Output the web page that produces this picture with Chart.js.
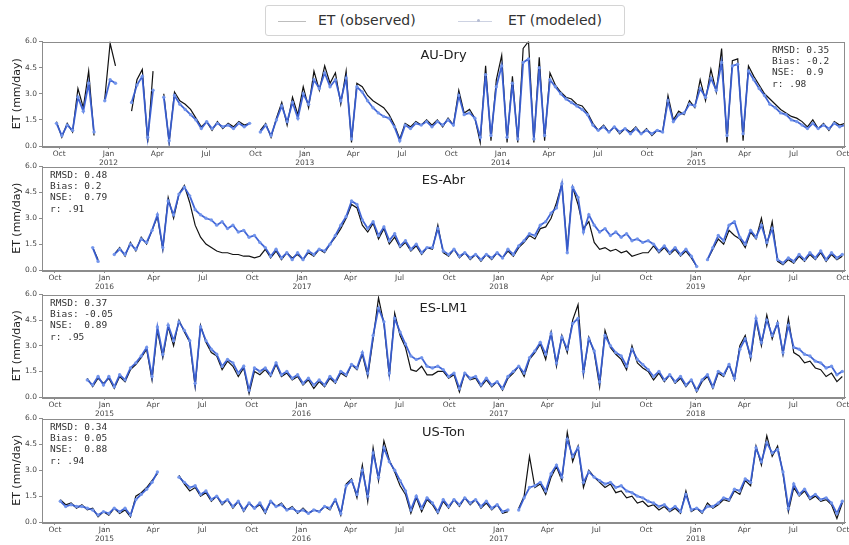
<!DOCTYPE html>
<html>
<head>
<meta charset="utf-8">
<script src="https://cdn.jsdelivr.net/npm/chart.js@4.4.1/dist/chart.umd.min.js"></script>
<style>
  body { margin: 0; background: #fff; width: 849px; height: 545px; overflow: hidden; position: relative; font-family: "DejaVu Sans", sans-serif; }
  canvas.panel { position: absolute; left: 0; }
  #legend { position: absolute; left: 265px; top: 5px; width: 360px; height: 31px; border: 1px solid #d4d4d4; border-radius: 3px; box-sizing: border-box; }
  #legend .lbl { position: absolute; top: 6px; font-size: 14px; color: #333; white-space: nowrap; }
  #legend .smp { position: absolute; top: 15px; height: 0; }
</style>
</head>
<body>
<div id="legend">
  <div class="smp" style="left:12px;width:28px;border-top:1px solid #bdbdbd;"></div>
  <div class="lbl" style="left:52px;">ET (observed)</div>
  <div class="smp" style="left:192px;width:34px;border-top:1px solid #cdd2e2;"></div>
  <div class="smp" style="left:211px;top:13px;width:3px;height:3px;border-radius:2px;background:#b5bcd4;"></div>
  <div class="lbl" style="left:242px;">ET (modeled)</div>
</div>

<script>
// Daily ET (mm/day), every 10 days
var sites = ["AU-Dry", "ES-Abr", "ES-LM1", "US-Ton"];
var startYears = [2011, 2015, 2014, 2014];   // first October on each x axis
var firstDay = [-5, -20, -20, -20];          // day (from 1 Oct) of first sample
var stepDays = 10;
var xMin = [-32, -24, -24, -24];
var xMax = 1465;

var monthNames = ["Oct", "Jan", "Apr", "Jul"];
var monthIdx = [9, 0, 3, 6];
var yTicks = [0, 1.5, 3.0, 4.5, 6.0];

var auObs = [1.4,0.5,1.3,0.8,3.3,2.2,4.3,0.6,null,2.7,5.9,4.6,null,null,2.0,3.8,4.4,0.2,4.3,null,
  3.0,0.2,3.1,2.6,2.4,2.1,1.6,1.1,1.4,0.9,1.4,1.0,1.3,1.1,1.4,1.2,1.3,null,0.9,1.3,
  0.5,1.6,2.5,1.2,2.8,1.8,3.4,2.2,4.3,3.2,4.6,3.6,4.2,2.4,4.3,0.2,3.6,3.4,2.9,2.6,
  2.4,2.2,1.8,1.2,0.4,1.3,1.1,1.4,1.2,1.5,1.2,1.5,1.1,1.6,1.2,3.2,1.9,2.1,1.6,0.2,
  4.6,0.3,3.8,5.2,0.2,4.0,0.2,5.6,6.0,0.2,5.1,0.3,4.2,3.5,3.1,2.8,2.7,2.4,2.3,1.9,
  1.3,0.9,1.2,0.8,1.1,0.7,1.0,0.8,1.1,0.7,1.0,0.6,0.9,0.8,2.9,1.5,2.0,1.8,2.6,2.2,
  3.8,2.6,4.4,3.1,5.6,0.2,4.9,5.0,0.3,4.6,4.0,3.5,3.0,2.7,2.4,2.1,1.9,1.7,1.6,1.4,
  1.1,1.5,1.0,1.3,0.9,1.4,1.2,1.3];
var auMod = [1.3,0.6,1.2,0.9,2.8,2.0,3.6,0.8,null,2.6,3.8,3.6,null,null,2.5,3.5,4.0,0.5,3.2,null,
  2.8,0.3,2.9,2.4,2.1,1.8,1.5,1.0,1.4,1.0,1.3,1.1,1.2,1.0,1.3,1.1,1.3,null,0.8,1.2,
  0.6,1.5,2.3,1.4,2.5,1.6,3.0,2.4,3.8,3.3,4.2,3.4,3.8,2.6,3.9,0.4,3.4,3.1,2.6,2.2,
  1.9,1.7,1.6,1.1,0.3,1.2,1.0,1.3,1.2,1.4,1.1,1.4,1.2,1.5,1.2,2.9,1.8,1.9,1.6,0.5,
  4.1,0.6,3.4,4.6,0.5,3.6,0.4,4.8,5.0,0.4,4.5,0.6,3.8,3.4,3.0,2.7,2.5,2.3,2.1,1.8,
  1.2,0.9,1.1,0.8,1.1,0.8,1.0,0.7,1.0,0.7,0.9,0.7,0.9,0.8,2.6,1.4,1.8,1.9,2.4,2.3,
  3.3,2.8,3.9,3.2,4.8,0.6,4.6,4.7,0.7,4.3,3.8,3.3,2.9,2.4,2.2,1.9,1.8,1.5,1.4,1.2,
  1.0,1.3,1.0,1.2,1.0,1.3,1.1,1.2];

var abrObs = [null,null,null,null,null,null,null,null,null,1.3,0.6,null,null,0.9,1.3,0.8,1.6,1.1,1.9,1.5,
  2.3,3.1,1.2,4.2,3.0,4.4,4.9,3.9,2.6,1.9,1.5,1.3,1.1,1.0,1.0,0.9,0.9,0.8,0.8,0.7,
  0.8,1.2,0.7,1.1,0.6,1.0,0.7,0.9,0.6,1.0,0.8,1.2,1.0,1.5,1.9,2.4,3.0,3.8,3.6,2.6,
  2.2,2.7,1.8,2.4,1.5,1.9,1.3,1.6,1.1,1.4,0.9,1.3,1.2,2.6,1.0,0.8,1.2,0.7,1.0,0.6,
  0.9,0.5,0.9,0.6,1.0,0.7,1.1,0.8,1.3,1.6,2.0,1.8,2.4,2.5,3.0,3.9,5.0,1.2,4.8,3.8,
  2.4,2.8,1.6,1.2,1.3,1.1,1.2,1.0,1.1,0.8,0.9,1.0,1.0,1.4,1.0,1.3,0.9,1.2,0.8,1.1,
  0.7,0.2,null,0.6,1.2,1.8,1.5,2.3,2.0,1.8,1.3,2.2,1.8,3.0,1.4,2.8,0.5,0.3,0.6,0.4,
  0.8,0.5,0.9,0.6,1.0,0.5,0.9,0.6,0.8];
var abrMod = [null,null,null,null,null,null,null,null,null,1.3,0.5,null,null,0.9,1.2,0.9,1.5,1.2,1.8,1.6,
  2.3,3.2,1.3,4.0,3.2,4.4,4.8,4.3,3.5,3.2,3.0,2.9,2.6,2.8,2.4,2.6,2.2,2.3,1.9,2.0,
  1.6,1.3,0.8,1.2,0.7,1.0,0.6,1.0,0.6,1.1,0.9,1.2,1.1,1.5,2.0,2.6,3.1,4.0,3.8,2.9,
  2.4,2.8,2.0,2.5,1.7,2.1,1.4,1.7,1.2,1.5,1.0,1.3,1.3,2.4,1.1,0.9,1.2,0.8,1.0,0.7,
  0.9,0.6,0.9,0.7,1.0,0.7,1.2,0.9,1.4,1.7,2.1,2.0,2.6,2.8,3.3,3.6,5.0,1.0,4.8,4.2,
  2.2,3.2,2.6,2.2,2.4,2.0,2.2,1.9,2.1,1.7,1.8,1.6,1.7,1.5,1.1,1.4,1.0,1.3,0.9,1.2,
  0.8,0.2,null,0.6,1.3,2.0,1.7,2.6,2.8,1.9,1.5,2.3,1.9,2.6,1.6,2.4,0.6,0.4,0.7,0.5,
  0.9,0.6,1.0,0.7,1.1,0.6,1.0,0.7,0.9];

var lmObs = [null,null,null,null,null,null,null,null,1.1,0.6,1.1,0.8,1.1,0.5,1.2,0.9,1.6,1.9,2.3,2.8,
  1.0,3.9,2.3,4.1,3.0,4.5,3.8,3.2,0.6,4.2,3.2,2.6,2.4,1.6,2.1,1.8,1.2,1.7,0.2,1.5,
  1.3,1.6,1.2,1.9,1.2,1.4,1.0,1.2,0.7,1.0,0.5,0.9,0.6,1.1,0.8,1.4,1.2,1.9,1.6,2.5,
  1.2,3.4,5.8,4.3,1.2,4.9,3.6,2.9,1.6,1.5,1.8,1.3,1.3,1.5,1.5,1.1,1.3,0.3,1.4,1.0,
  1.1,0.6,1.0,0.6,0.9,0.4,1.1,1.4,1.8,1.2,2.2,2.6,3.1,2.2,3.8,1.8,3.6,2.6,4.5,5.4,
  1.3,3.5,2.6,0.6,3.9,2.9,2.5,2.2,1.6,3.0,2.0,1.7,1.5,1.0,1.4,0.9,1.3,0.8,1.1,0.6,
  1.0,0.3,0.9,1.2,0.5,1.4,1.2,1.9,1.0,3.0,3.6,2.2,4.5,3.0,4.8,3.4,4.4,2.5,4.6,2.6,
  2.4,2.0,2.1,1.7,1.6,1.2,1.4,0.9,1.2];
var lmMod = [null,null,null,null,null,null,null,null,1.0,0.7,1.2,0.7,1.2,0.6,1.3,1.0,1.7,2.0,2.4,2.9,
  1.2,4.1,2.5,4.2,3.3,4.4,3.9,3.3,0.8,4.1,3.3,2.8,2.5,1.8,2.2,2.0,1.4,1.8,0.4,1.7,
  1.5,1.7,1.3,2.0,1.3,1.5,1.1,1.3,0.8,1.1,0.7,1.0,0.7,1.2,0.9,1.5,1.3,1.9,1.7,2.6,
  1.4,3.6,5.2,4.4,1.4,4.6,3.8,3.1,2.4,2.2,2.3,1.8,1.7,1.8,1.6,1.2,1.4,0.5,1.4,1.1,
  1.2,0.7,1.1,0.7,0.9,0.5,1.2,1.5,1.8,1.4,2.3,2.7,3.2,2.5,3.7,2.0,3.5,2.8,4.3,4.6,
  1.5,3.4,2.7,0.9,3.6,3.0,2.6,2.4,1.8,2.8,2.2,1.9,1.6,1.2,1.5,1.0,1.3,0.9,1.2,0.7,
  1.0,0.4,1.0,1.3,0.6,1.5,1.3,1.9,1.1,2.8,3.4,2.4,4.6,3.2,4.5,3.6,4.3,2.6,4.2,2.9,
  2.8,2.5,2.4,2.1,2.0,1.7,1.8,1.3,1.5];

var tonObs = [null,null,null,1.3,1.0,1.1,0.8,1.0,0.7,0.8,0.3,0.6,0.4,0.8,0.5,0.7,0.3,1.5,1.7,2.0,
  2.4,2.8,null,null,null,2.7,2.2,1.8,2.0,1.5,1.7,1.2,1.5,1.0,1.3,0.8,1.2,0.6,1.1,0.8,
  1.0,0.5,1.2,0.9,1.1,0.7,0.9,0.5,0.8,0.5,0.7,0.6,0.9,0.7,1.3,0.4,2.2,2.5,1.4,3.3,
  1.2,4.3,2.4,4.7,3.6,2.9,2.1,1.6,0.5,1.4,0.6,1.3,1.0,0.5,1.2,0.8,1.3,0.9,1.4,1.0,
  1.3,0.8,1.1,0.7,1.0,0.5,0.6,null,0.8,1.5,3.8,2.0,2.2,1.6,2.6,3.2,2.4,5.2,3.5,4.4,
  2.0,3.0,2.6,2.3,2.0,2.2,1.7,1.8,1.4,1.5,1.1,1.2,0.9,1.0,0.7,0.9,0.6,0.8,0.5,1.8,
  0.6,0.8,0.5,1.1,0.8,1.0,1.3,1.2,1.8,1.6,2.4,2.1,4.4,3.3,5.0,3.8,4.4,2.8,0.6,2.0,
  1.5,1.8,1.3,1.5,1.2,1.3,1.0,0.2,1.1];
var tonMod = [null,null,null,1.2,0.9,1.0,0.9,0.9,0.8,0.7,0.4,0.6,0.5,0.8,0.6,0.8,0.4,1.3,1.6,1.9,
  2.3,2.9,null,null,null,2.6,2.3,2.0,2.1,1.6,1.8,1.3,1.5,1.1,1.3,0.9,1.2,0.7,1.1,0.8,
  1.1,0.6,1.2,0.9,1.0,0.7,0.8,0.6,0.7,0.5,0.7,0.6,0.9,0.8,1.3,0.5,2.1,2.4,1.6,3.0,
  1.5,4.0,2.6,4.3,3.5,3.0,2.4,1.8,0.7,1.5,0.8,1.4,1.1,0.6,1.3,0.9,1.3,1.0,1.4,1.1,
  1.3,0.9,1.2,0.8,1.0,0.6,0.7,null,0.7,1.4,2.0,2.1,2.3,1.8,2.8,3.3,2.6,4.8,3.8,4.3,
  2.3,2.9,2.6,2.4,2.2,2.3,2.0,2.1,1.8,1.7,1.5,1.4,1.2,1.1,0.9,1.0,0.7,0.9,0.6,1.6,
  0.7,0.8,0.6,0.9,0.9,1.1,1.4,1.3,1.9,1.8,2.5,2.3,4.3,3.5,4.6,4.0,4.2,2.9,0.8,2.2,
  1.6,1.9,1.4,1.6,1.3,1.4,1.1,0.5,1.2];

var observed = [auObs, abrObs, lmObs, tonObs];
var modeled = [auMod, abrMod, lmMod, tonMod];

var statsText = [
  ["RMSD: 0.35", "Bias: -0.2", "NSE:  0.9", "r: .98"],
  ["RMSD: 0.48", "Bias: 0.2", "NSE:  0.79", "r: .91"],
  ["RMSD: 0.37", "Bias: -0.05", "NSE:  0.89", "r: .95"],
  ["RMSD: 0.34", "Bias: 0.05", "NSE:  0.88", "r: .94"]
];
var statsRight = [true, false, false, false];

var panelTop = [41, 166, 294, 418];
var panelH = [105, 104, 103, 104];

function toPoints(vals, d0) {
  var pts = [];
  for (var i = 0; i < vals.length; i++) {
    pts.push({ x: d0 + i * stepDays, y: vals[i] });
  }
  return pts;
}

function quarterTicks(y0) {
  var t0 = Date.UTC(y0, 9, 1);
  var days = [], labels = [];
  for (var q = 0; q <= 16; q++) {
    var m = monthIdx[q % 4];
    var yr = q === 0 ? y0 : y0 + Math.floor((q - 1) / 4) + 1;
    days.push((Date.UTC(yr, m, 1) - t0) / 864e5);
    labels.push(m === 0 ? [monthNames[q % 4], String(yr)] : monthNames[q % 4]);
  }
  return { days: days, labels: labels };
}

var framePlugin = {
  id: "frame",
  afterDraw: function(chart, args, o) {
    var a = chart.chartArea, ctx = chart.ctx;
    ctx.save();
    ctx.strokeStyle = "#8c8c8c";
    ctx.lineWidth = 1;
    ctx.strokeRect(Math.round(a.left) + 0.5, Math.round(a.top) + 0.5, Math.round(a.right - a.left) - 1, Math.round(a.bottom - a.top));
    ctx.fillStyle = "#222";
    ctx.font = "13px 'DejaVu Sans'";
    ctx.textAlign = "center";
    ctx.textBaseline = "middle";
    ctx.fillText(o.title, (a.left + a.right) / 2, a.top + 14);
    ctx.font = "9.5px 'DejaVu Sans Mono'";
    ctx.fillStyle = "#333";
    ctx.textAlign = "left";
    var sx = o.right ? 772 : 50;
    for (var i = 0; i < o.stats.length; i++) {
      ctx.fillText(o.stats[i], sx, a.top + 9 + i * 11.2);
    }
    ctx.restore();
  }
};

sites.forEach(function(site, k) {
  var cv = document.createElement("canvas");
  cv.className = "panel";
  cv.width = 849;
  cv.height = panelH[k] + 6 + 24;
  cv.style.top = (panelTop[k] - 6) + "px";
  cv.style.width = "849px";
  cv.style.height = cv.height + "px";
  document.body.appendChild(cv);

  var qt = quarterTicks(startYears[k]);

  new Chart(cv.getContext("2d"), {
    type: "line",
    data: {
      datasets: [
        {
          // lower order is painted last, so the model sits on top
          label: "ET (modeled)",
          data: toPoints(modeled[k], firstDay[k]),
          borderColor: "rgba(56,94,212,0.95)",
          backgroundColor: "rgba(115,150,236,0.95)",
          borderWidth: 1.8,
          pointRadius: 1.7,
          pointBorderWidth: 0,
          spanGaps: false,
          order: 1
        },
        {
          label: "ET (observed)",
          data: toPoints(observed[k], firstDay[k]),
          borderColor: "#111",
          borderWidth: 1.2,
          pointRadius: 0,
          spanGaps: false,
          order: 2
        }
      ]
    },
    options: {
      responsive: false,
      animation: false,
      devicePixelRatio: 1,
      layout: { padding: { top: 6, right: 2, left: 0, bottom: 0 } },
      plugins: {
        legend: { display: false },
        tooltip: { enabled: false },
        frame: { title: site, stats: statsText[k], right: statsRight[k] }
      },
      scales: {
        x: {
          type: "linear",
          min: xMin[k],
          max: xMax,
          afterBuildTicks: function(s) { s.ticks = qt.days.map(function(d) { return { value: d }; }); },
          afterFit: function(s) { s.height = 24; s.paddingLeft = 0; s.paddingRight = 0; },
          ticks: {
            autoSkip: false,
            maxRotation: 0,
            padding: 1,
            color: "#444",
            font: { family: "DejaVu Sans", size: 7.5, lineHeight: 1.15 },
            callback: function(v, i) { return qt.labels[i]; }
          },
          grid: { drawOnChartArea: false, tickLength: 3, color: "#8c8c8c" },
          border: { color: "#8c8c8c" }
        },
        y: {
          min: 0,
          max: 6,
          afterBuildTicks: function(s) { s.ticks = yTicks.map(function(v) { return { value: v }; }); },
          afterFit: function(s) { s.width = 42; },
          ticks: {
            padding: 2,
            color: "#444",
            font: { family: "DejaVu Sans", size: 7.5 },
            callback: function(v) { return v.toFixed(1); }
          },
          grid: { drawOnChartArea: false, tickLength: 3, color: "#8c8c8c" },
          border: { color: "#8c8c8c" },
          title: {
            display: true,
            text: "ET (mm/day)",
            color: "#222",
            font: { family: "DejaVu Sans", size: 11 },
            padding: { top: 11, bottom: 0 }
          }
        }
      }
    },
    plugins: [framePlugin]
  });
});
</script>
</body>
</html>
